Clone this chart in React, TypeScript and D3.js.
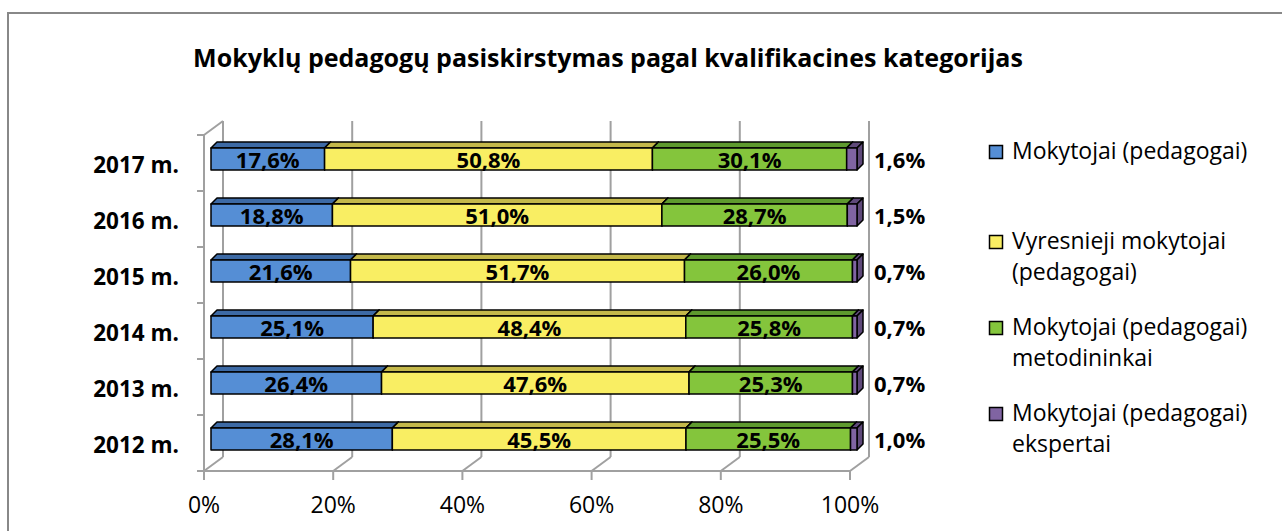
import * as d3 from "d3";

const years = ["2017 m.", "2016 m.", "2015 m.", "2014 m.", "2013 m.", "2012 m."];
const keys = ["mokytojai", "vyresnieji", "metodininkai", "ekspertai"];
const mokytojai = [17.6, 18.8, 21.6, 25.1, 26.4, 28.1];
const vyresnieji = [50.8, 51.0, 51.7, 48.4, 47.6, 45.5];
const metodininkai = [30.1, 28.7, 26.0, 25.8, 25.3, 25.5];
const ekspertai = [1.6, 1.5, 0.7, 0.7, 0.7, 1.0];
const legendLines = [
  ["Mokytojai (pedagogai)"],
  ["Vyresnieji mokytojai", "(pedagogai)"],
  ["Mokytojai (pedagogai)", "metodininkai"],
  ["Mokytojai (pedagogai)", "ekspertai"],
];
const xTicks = [0, 0.2, 0.4, 0.6, 0.8, 1];

const front = ["#558ed5", "#f9ee63", "#84c53c", "#8064a2"];
const topC = ["#3d6aa5", "#c4b84a", "#5e9a2e", "#5f497a"];
const sideC = ["#2f5383", "#a89d3a", "#4b7c24", "#5f497a"];

const font = "'Open Sans', sans-serif";
const fmt = (v: number) => v.toFixed(1).replace(".", ",") + "%";

export default function App() {
  const table = years.map((year, i) => ({
    year,
    mokytojai: mokytojai[i],
    vyresnieji: vyresnieji[i],
    metodininkai: metodininkai[i],
    ekspertai: ekspertai[i],
  }));
  const stacked = d3.stack<any>().keys(keys).offset(d3.stackOffsetExpand)(table);

  const x = d3.scaleLinear().domain([0, 1]).range([204, 850]);
  const y = d3.scaleBand().domain(years).range([135, 471]);
  const bw = y.bandwidth();
  // 3D wall depth and bar placement
  const DX = 19, DY = -14;
  const fx = 7, fy = -4, bx = 6, by = -6, bh = 22;
  const grid = "#a0a0a0";

  const values = [mokytojai, vyresnieji, metodininkai, ekspertai];

  return (
    <div style={{ position: "absolute", left: 0, top: 0 }}>
      <svg width={1282} height={531} style={{ display: "block", fontFamily: font }}>
        <rect x={8} y={13} width={1290} height={600} fill="#fff" stroke="#888" strokeWidth={2} />
        <text x={608} y={67} textAnchor="middle" fontSize={25} fontWeight="bold">
          Mokyklų pedagogų pasiskirstymas pagal kvalifikacines kategorijas
        </text>

        {/* walls and gridlines */}
        <g stroke={grid} strokeWidth={2} fill="none">
          {xTicks.map((t) => (
            <g key={t}>
              <line x1={x(t) + DX} x2={x(t) + DX} y1={135 + DY} y2={471 + DY} />
              <line x1={x(t)} x2={x(t) + DX} y1={471} y2={471 + DY} />
              <line x1={x(t)} x2={x(t)} y1={471} y2={480} />
            </g>
          ))}
          <line x1={x(0)} x2={x(1)} y1={471} y2={471} />
          <line x1={x(0)} x2={x(0)} y1={135} y2={471} />
          <line x1={x(0)} x2={x(0) + DX} y1={135} y2={135 + DY} />
          {[...years.map((c) => y(c)!), 471].map((b, i) => (
            <line key={i} x1={x(0) - 7} x2={x(0)} y1={b} y2={b} />
          ))}
        </g>

        {xTicks.map((t) => (
          <text key={t} x={x(t)} y={513} textAnchor="middle" fontSize={23}>
            {Math.round(t * 100) + "%"}
          </text>
        ))}
        {years.map((c) => (
          <text key={c} x={179} y={y(c)! + bw / 2 + 10} textAnchor="end" fontSize={22.5} fontWeight="bold">
            {c}
          </text>
        ))}

        {/* bars */}
        {years.map((c, ri) => {
          const top = y(c)! + bw / 2 + fy - bh / 2;
          const bot = top + bh;
          return (
            <g key={c}>
              {stacked.map((s, si) => {
                const d = s[ri];
                const x0 = x(d[0]) + fx;
                const x1 = x(d[1]) + fx;
                return (
                  <g key={si} stroke="#000" strokeWidth={1.5} strokeLinejoin="round">
                    <polygon
                      points={`${x0},${top} ${x1},${top} ${x1 + bx},${top + by} ${x0 + bx},${top + by}`}
                      fill={topC[si]}
                    />
                    <polygon
                      points={`${x1},${top} ${x1 + bx},${top + by} ${x1 + bx},${bot + by} ${x1},${bot}`}
                      fill={sideC[si]}
                    />
                    <rect x={x0} y={top} width={x1 - x0} height={bh} fill={front[si]} />
                  </g>
                );
              })}
              {stacked.map((s, si) => {
                const d = s[ri];
                const x0 = x(d[0]) + fx;
                const x1 = x(d[1]) + fx;
                const inside = si < 3;
                return (
                  <text
                    key={"l" + si}
                    x={inside ? (x0 + x1) / 2 : x1 + bx + 11}
                    y={top + 20}
                    textAnchor={inside ? "middle" : "start"}
                    fontSize={22}
                    fontWeight="bold"
                  >
                    {fmt(values[si][ri])}
                  </text>
                );
              })}
            </g>
          );
        })}

        {/* legend */}
        {legendLines.map((lines, i) => {
          const base = [159, 249, 335, 421][i];
          return (
            <g key={i}>
              <rect x={989.5} y={base - 13.5} width={13} height={13} fill={front[i]} stroke="#000" strokeWidth={1.5} />
              {lines.map((l, j) => (
                <text key={j} x={1012} y={base + j * 31} fontSize={23}>
                  {l}
                </text>
              ))}
            </g>
          );
        })}
      </svg>
    </div>
  );
}
